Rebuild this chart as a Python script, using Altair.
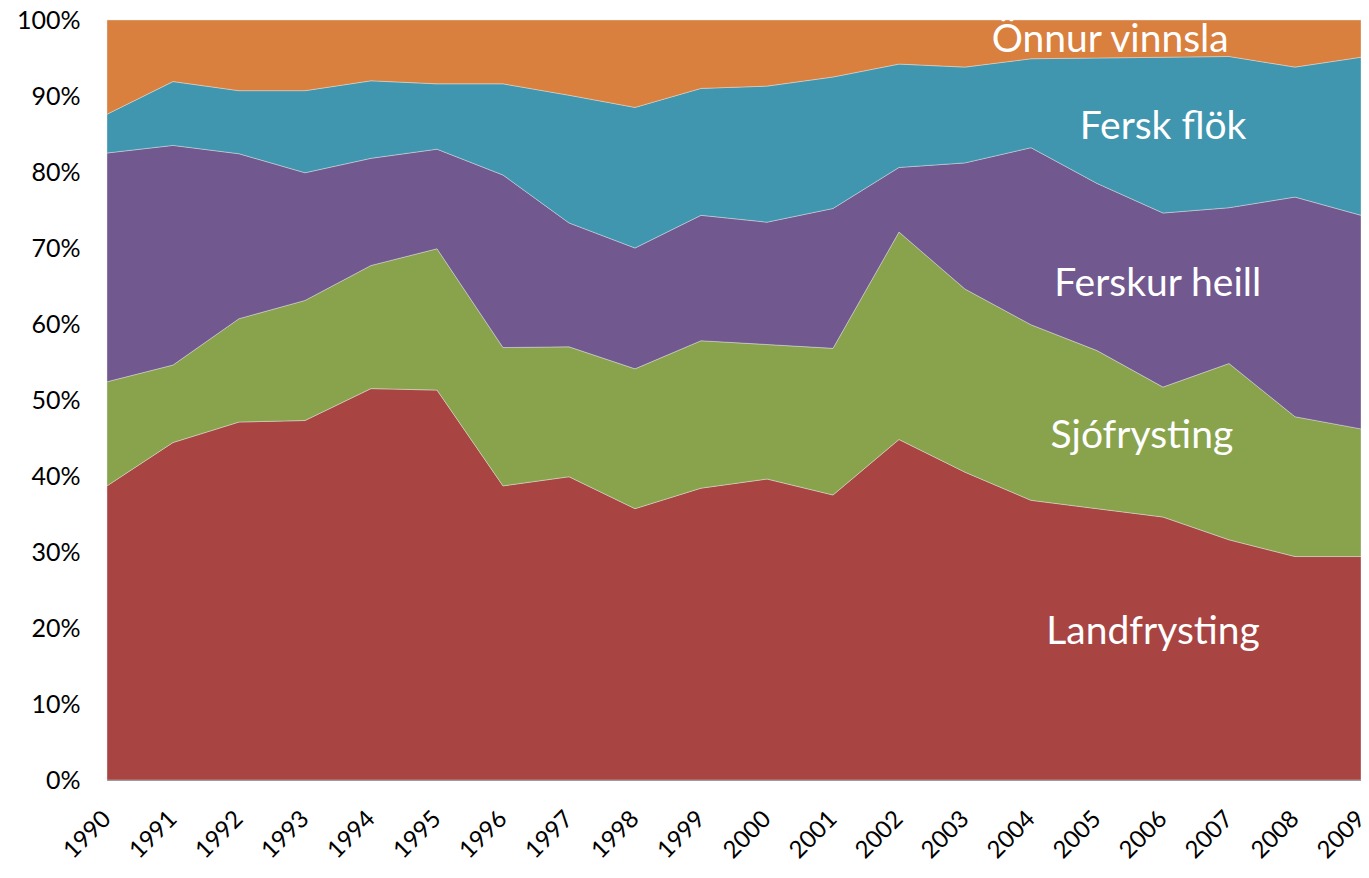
import altair as alt
import pandas as pd

years = list(range(1990, 2010))
series = ["Landfrysting", "Sjófrysting", "Ferskur heill", "Fersk flök", "Önnur vinnsla"]
colors = ["#A84442", "#89A34D", "#71588F", "#4096AE", "#D9803E"]

landfrysting = [38.7, 44.4, 47.1, 47.3, 51.5, 51.3, 38.7, 39.9, 35.7, 38.4,
                39.6, 37.5, 44.8, 40.5, 36.8, 35.7, 34.6, 31.6, 29.4, 29.4]
sjofrysting = [13.7, 10.2, 13.6, 15.8, 16.2, 18.6, 18.2, 17.1, 18.4, 19.4,
               17.7, 19.3, 27.3, 24.1, 23.1, 20.8, 17.1, 23.2, 18.4, 16.8]
ferskur_heill = [30.1, 28.9, 21.7, 16.8, 14.1, 13.1, 22.7, 16.3, 15.9, 16.5,
                 16.1, 18.4, 8.5, 16.6, 23.3, 22.0, 22.9, 20.5, 28.9, 28.1]
fersk_flok = [5.1, 8.4, 8.3, 10.8, 10.2, 8.6, 12.0, 16.8, 18.5, 16.7,
              17.9, 17.3, 13.6, 12.6, 11.7, 16.5, 20.5, 19.9, 17.1, 20.8]
onnur = [12.4, 8.1, 9.3, 9.3, 8.0, 8.4, 8.4, 9.9, 11.5, 9.0,
         8.7, 7.5, 5.8, 6.2, 5.1, 5.0, 4.9, 4.8, 6.2, 4.9]

values = [landfrysting, sjofrysting, ferskur_heill, fersk_flok, onnur]

rows = []
for i, (name, vals) in enumerate(zip(series, values)):
    for y, v in zip(years, vals):
        rows.append({"year": y, "series": name, "value": v, "idx": i})
df = pd.DataFrame(rows)

label_text = ["Landfrysting", "Sjófrysting", "Ferskur heill", "Fersk flök", "Önnur vinnsla"]
label_x = [2005.85, 2005.68, 2005.92, 2006.0, 2005.2]
label_y = [19.5, 45.2, 65.2, 85.9, 97.4]
labels = pd.DataFrame({"text": label_text, "x": label_x, "y": label_y})

xscale = alt.Scale(domain=[1990, 2009], nice=False, zero=False)
yscale = alt.Scale(domain=[0, 100], nice=False)

area = alt.Chart(df).mark_area(stroke="#e8e8e8", strokeWidth=0.6, strokeOpacity=0.7).encode(
    x=alt.X("year:Q", scale=xscale,
            axis=alt.Axis(values=years, format="d", labelAngle=-45, labelAlign="right",
                          labelBaseline="middle", labelPadding=35, ticks=False, grid=False,
                          domainColor="#888888", labelFontSize=24, labelColor="#000000",
                          labelFont="Lato", title=None, labelOverlap=False, labelFlush=False)),
    y=alt.Y("value:Q", stack="zero", scale=yscale,
            axis=alt.Axis(values=list(range(0, 101, 10)), labelExpr="datum.value + '%'",
                          ticks=False, grid=False, domainColor="#888888", labelFontSize=25,
                          labelColor="#000000", labelFont="Lato", labelPadding=27, title=None)),
    color=alt.Color("series:N", scale=alt.Scale(domain=series, range=colors), legend=None),
    order=alt.Order("idx:Q", sort="ascending"),
)

text = alt.Chart(labels).mark_text(color="white", font="Lato", fontSize=39,
                                   align="center", baseline="middle").encode(
    x=alt.X("x:Q", scale=xscale),
    y=alt.Y("y:Q", scale=yscale),
    text="text:N",
)

chart = (area + text).properties(
    width=1254, height=760,
    autosize=alt.AutoSizeParams(type="none"),
    padding={"left": 99, "top": 12, "right": 0, "bottom": 90},
).configure_view(stroke="#888888", strokeWidth=1)

chart.save("out.html", embed_options={"renderer": "svg", "actions": False})
